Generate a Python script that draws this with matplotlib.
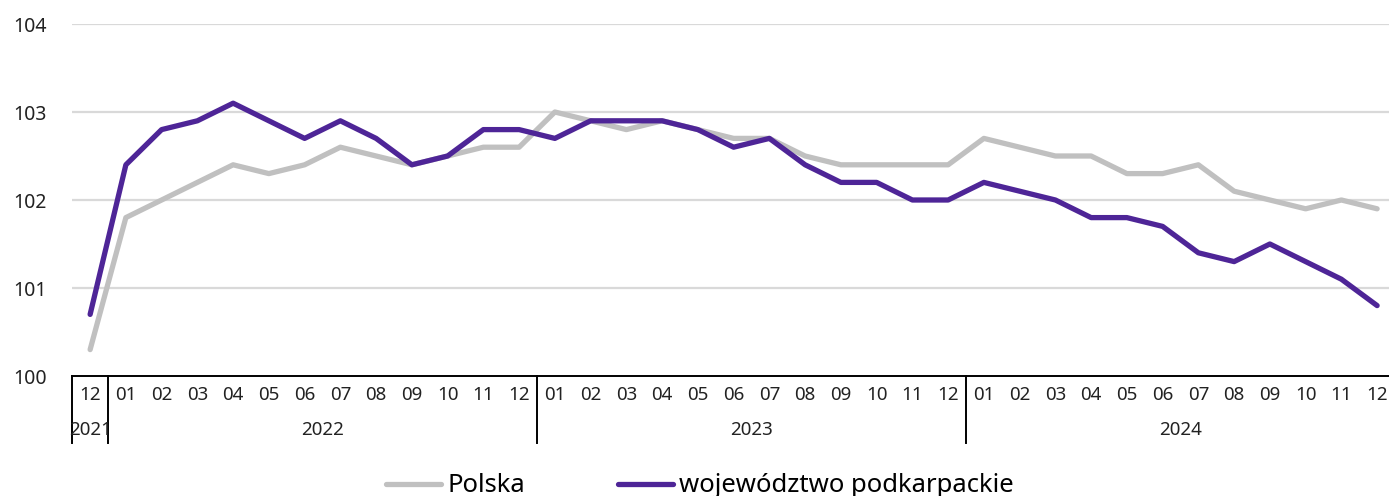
import matplotlib
matplotlib.use("Agg")
import matplotlib.pyplot as plt

plt.rcParams['font.family'] = ['Noto Sans', 'DejaVu Sans']

months = ['12'] + ['%02d' % m for m in range(1, 13)] * 3
years = ['2021', '2022', '2023', '2024']
year_spans = [(0, 0), (1, 12), (13, 24), (25, 36)]

polska = [100.3, 101.8, 102.0, 102.2, 102.4, 102.3, 102.4, 102.6, 102.5, 102.4, 102.5, 102.6, 102.6,
          103.0, 102.9, 102.8, 102.9, 102.8, 102.7, 102.7, 102.5, 102.4, 102.4, 102.4, 102.4,
          102.7, 102.6, 102.5, 102.5, 102.3, 102.3, 102.4, 102.1, 102.0, 101.9, 102.0, 101.9]
podkarpackie = [100.7, 102.4, 102.8, 102.9, 103.1, 102.9, 102.7, 102.9, 102.7, 102.4, 102.5, 102.8, 102.8,
                102.7, 102.9, 102.9, 102.9, 102.8, 102.6, 102.7, 102.4, 102.2, 102.2, 102.0, 102.0,
                102.2, 102.1, 102.0, 101.8, 101.8, 101.7, 101.4, 101.3, 101.5, 101.3, 101.1, 100.8]

x = list(range(len(months)))

fig = plt.figure(figsize=(13.89, 4.96), dpi=100)
ax = fig.add_axes([72.25 / 1389, 120 / 496, 1322.75 / 1389, 352 / 496])

for v in [101, 102, 103, 104]:
    ax.axhline(v, color='#d9d9d9', linewidth=1.6, zorder=0)

ax.plot(x, polska, color='#c0c0c0', linewidth=3.8, label='Polska', solid_capstyle='round')
ax.plot(x, podkarpackie, color='#4e2597', linewidth=3.8, label='województwo podkarpackie',
        solid_capstyle='round')

ax.set_xlim(-0.5, len(months) - 0.5)
ax.set_ylim(100, 104)
ax.set_yticks([100, 101, 102, 103, 104])
ax.tick_params(axis='y', length=0, pad=42.5, labelsize=14, labelcolor='#222222')
for lab in ax.get_yticklabels():
    lab.set_horizontalalignment('left')
ax.set_xticks([])

for s in ['top', 'right', 'left']:
    ax.spines[s].set_visible(False)
ax.spines['bottom'].set_color('black')
ax.spines['bottom'].set_linewidth(1.4)

trans = ax.get_xaxis_transform()
for i, m in enumerate(months):
    ax.text(i, -0.054, m, transform=trans, ha='center', va='center', fontsize=13.5, color='#222222')

for yr, (a, b) in zip(years, year_spans):
    ax.text((a + b) / 2, -0.153, yr, transform=trans, ha='center', va='center', fontsize=13.5,
            color='#222222')
    ax.plot([a - 0.5, a - 0.5], [0, -0.19], transform=trans, color='black', linewidth=1.4,
            clip_on=False)
ax.plot([36.5, 36.5], [0, -0.19], transform=trans, color='black', linewidth=1.4, clip_on=False)

fig.legend(loc='center', bbox_to_anchor=(700 / 1389, 1 - 486 / 496), ncol=2, frameon=False,
           fontsize=18.5, handlelength=2.15, handletextpad=0.25, columnspacing=3.6)

fig.savefig('out.png', dpi=100)
